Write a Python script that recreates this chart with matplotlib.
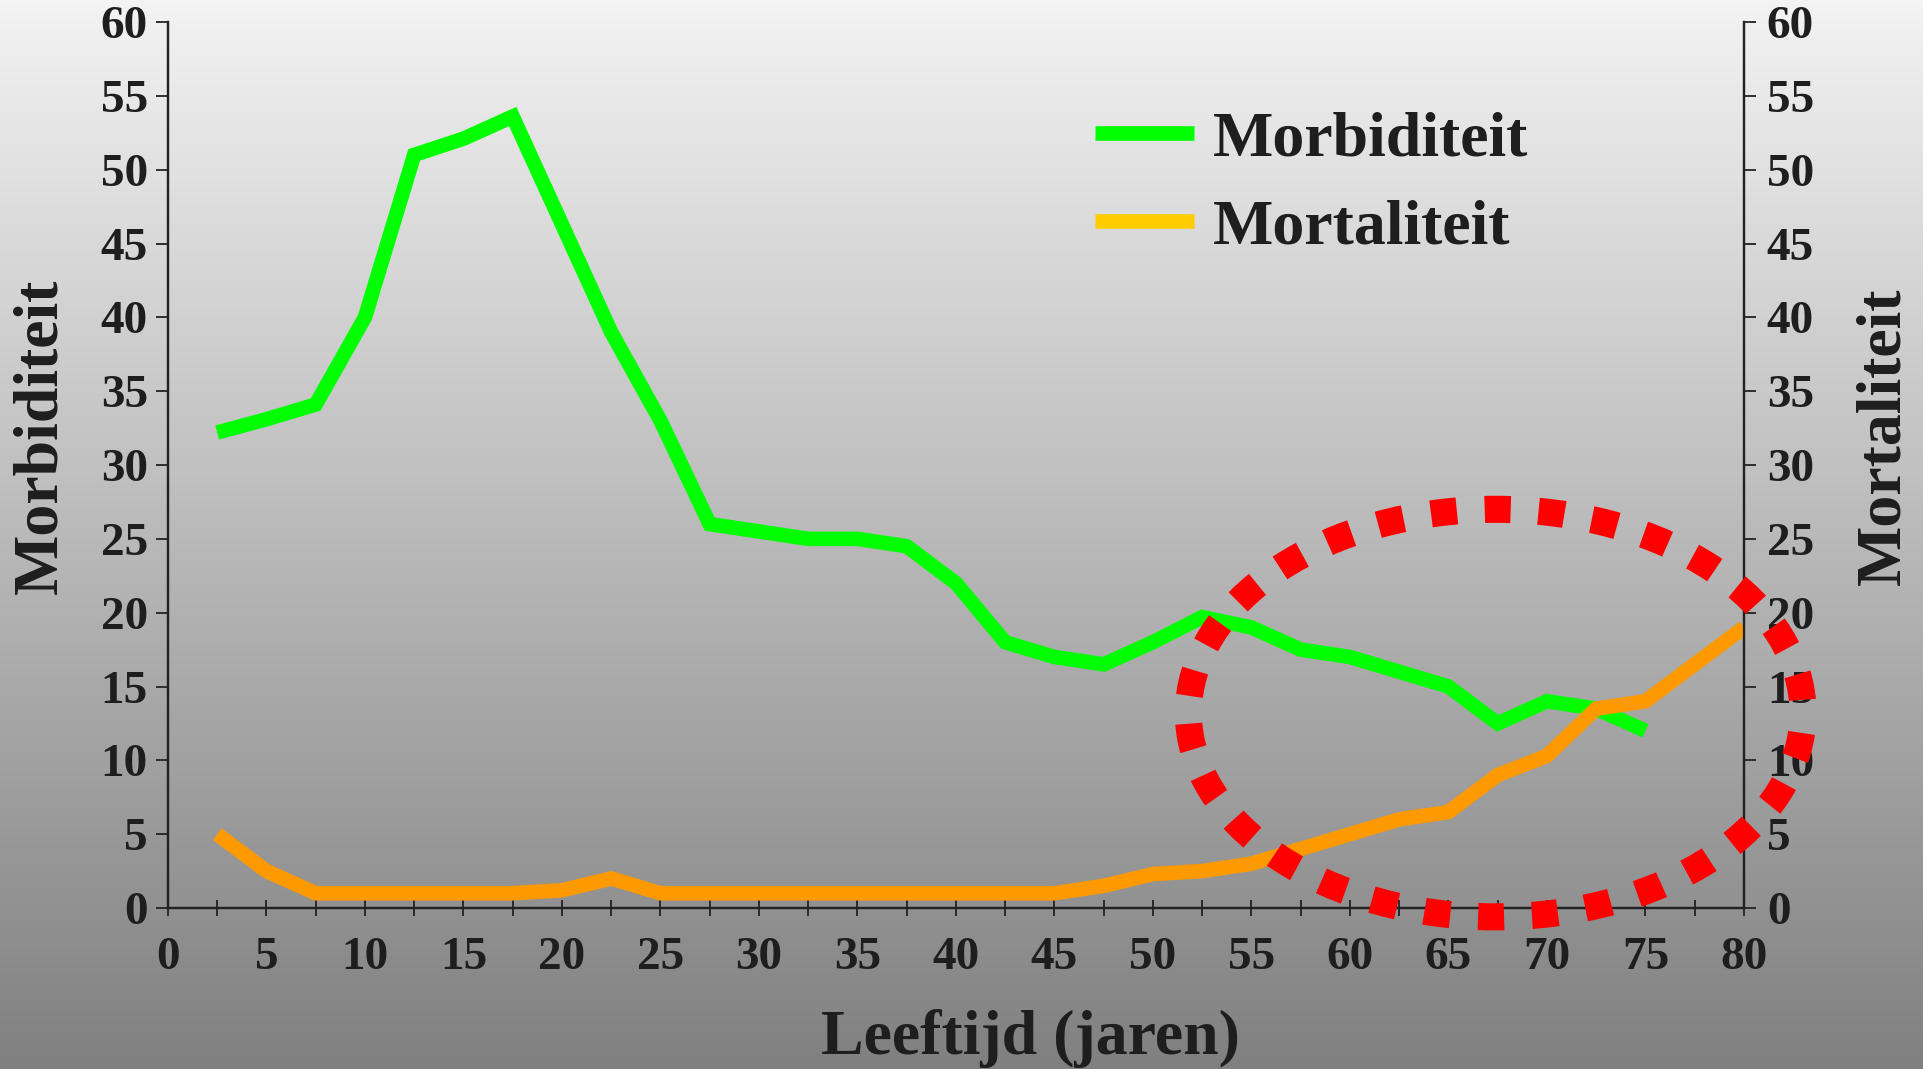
import numpy as np
import matplotlib
matplotlib.use("Agg")
from matplotlib import pyplot as plt
from matplotlib.patches import Ellipse
from matplotlib.lines import Line2D

# data
leeftijd = [2.5, 5, 7.5, 10, 12.5, 15, 17.5, 20, 22.5, 25, 27.5, 30, 32.5, 35, 37.5,
            40, 42.5, 45, 47.5, 50, 52.5, 55, 57.5, 60, 62.5, 65, 67.5, 70, 72.5, 75, 77.5, 80]
morbiditeit = [32.2, 33.1, 34.1, 40.0, 51.0, 52.1, 53.6, 46.3, 39.0, 33.0, 26.0, 25.5, 25.0, 25.0, 24.5,
               22.0, 18.0, 17.0, 16.5, 18.0, 19.7, 19.0, 17.5, 17.0, 16.0, 15.0, 12.5, 14.0, 13.5, 12.0]
mortaliteit = [5.0, 2.5, 1.0, 1.0, 1.0, 1.0, 1.0, 1.2, 2.0, 1.0, 1.0, 1.0, 1.0, 1.0, 1.0,
               1.0, 1.0, 1.0, 1.5, 2.3, 2.5, 3.0, 4.0, 5.0, 6.0, 6.5, 9.0, 10.3, 13.5, 14.0, 16.5, 19.0]
y_ticks = list(range(0, 61, 5))
x_ticks = list(range(0, 81, 5))
labels = ["Morbiditeit", "Mortaliteit"]

# highlighted region (ellipse centre / size in data units)
ell_center = (67.4, 13.2)
ell_size = (31.2, 27.6)

plt.rcParams['font.family'] = ['Liberation Serif', 'DejaVu Serif']
plt.rcParams['font.weight'] = 'bold'
txt = '#1e1e1e'

fig = plt.figure(figsize=(19.24, 10.69), dpi=100)

# vertical grey gradient background
bg = fig.add_axes([0, 0, 1, 1], zorder=-10)
grad = np.linspace(243, 128, 256)[:, None] / 255.0
bg.imshow(np.dstack([grad] * 3), aspect='auto', extent=[0, 1, 0, 1])
bg.axis('off')

ax = fig.add_axes([0.0873, 0.1506, 0.8191, 0.8288])
ax.patch.set_visible(False)
ax2 = ax.twinx()
ax2.patch.set_visible(False)

ax.plot(leeftijd[:len(morbiditeit)], morbiditeit, color='#00ff00', lw=10.5,
        solid_capstyle='butt', solid_joinstyle='miter')
ax2.plot(leeftijd, mortaliteit, color='#ff9900', lw=10.5,
         solid_capstyle='butt', solid_joinstyle='miter')

# rotated by 90 so the dashed path starts at the top
ell = Ellipse(ell_center, ell_size[1], ell_size[0], angle=90, fill=False,
              edgecolor='#ff0000', lw=19.5, clip_on=False, zorder=5)
ell.set_linestyle((1.5, (0.96, 1.03)))
ax2.add_patch(ell)

for a in (ax, ax2):
    a.set_xlim(0, 80)
    a.set_ylim(0, 60)
    a.set_yticks(y_ticks)
    a.spines['top'].set_visible(False)
    for s in a.spines.values():
        s.set_color('#222222')
        s.set_linewidth(1.6)

ax.set_xticks(x_ticks)
ax.set_xticks(np.arange(2.5, 80, 5), minor=True)
ax.tick_params(axis='x', which='both', direction='inout', length=12, width=1.3,
               colors='#222222', labelsize=34, labelcolor=txt, pad=15)
ax.tick_params(axis='y', direction='out', length=8.5, width=1.3, colors='#222222',
               labelsize=34, labelcolor=txt, pad=6)
ax2.tick_params(axis='y', direction='out', length=8.5, width=1.3, colors='#222222',
                labelsize=34, labelcolor=txt, pad=8)
for t in ax.get_xticklabels() + ax.get_yticklabels() + ax2.get_yticklabels():
    t.set_fontweight('bold')

ax.set_xlabel("Leeftijd (jaren)", fontsize=46, fontweight='bold', color=txt)
ax.xaxis.set_label_coords(0.547, -0.114)
ax.set_ylabel(labels[0], fontsize=46, fontweight='bold', color=txt)
ax.yaxis.set_label_coords(-0.062, 0.532)
ax2.set_ylabel(labels[1], fontsize=46, fontweight='bold', color=txt)
ax2.yaxis.set_label_coords(1.071, 0.532)

handles = [Line2D([], [], color='#00ff00', lw=10.5, solid_capstyle='butt'),
           Line2D([], [], color='#ffcc00', lw=10.5, solid_capstyle='butt')]
leg = ax2.legend(handles, labels, loc='upper left', bbox_to_anchor=(1095 / 1924, 1 - 111 / 1069),
                 bbox_transform=fig.transFigure, frameon=False, borderpad=0, borderaxespad=0,
                 handlelength=1.55, handletextpad=0.3, labelspacing=0.45,
                 prop={'size': 46, 'weight': 'bold'})
for t in leg.get_texts():
    t.set_color(txt)

fig.savefig("out.png", dpi=100)
